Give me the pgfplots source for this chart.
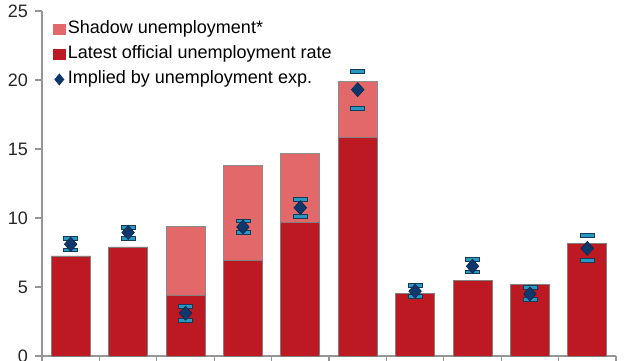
\documentclass[border=0pt]{standalone}
\usepackage{pgfplots}
\pgfplotsset{compat=1.18}
\usepackage{fontspec}
\setmainfont{Liberation Sans}
\definecolor{offred}{RGB}{189,25,35}
\definecolor{shadred}{RGB}{226,104,106}
\definecolor{navy}{RGB}{14,56,108}
\definecolor{capcyan}{RGB}{40,152,192}
\definecolor{capdark}{RGB}{20,60,90}
\definecolor{axgray}{RGB}{150,150,150}
\begin{document}
\begin{tikzpicture}
\useasboundingbox (-21pt,-2pt) rectangle (299pt,178pt);
\begin{axis}[
  scale only axis,
  width=287pt, height=172.5pt,
  xmin=0.5, xmax=10.5, ymin=0, ymax=25,
  axis x line*=bottom, axis y line*=left,
  axis line style={draw=axgray, line width=0.6pt},
  xtick={0.5,1.5,...,10.5}, xticklabels={},
  ytick={0,5,10,15,20,25},
  tick align=outside, major tick length=3.5pt,
  tick style={draw=axgray, line width=0.6pt},
  tick label style={font=\fontsize{9}{10}\selectfont, text=black!85},
  /pgf/number format/assume math mode=true,
  ybar, bar shift=0pt, bar width=19.5pt,
  legend cell align=left,
  legend style={draw=none, fill=none, inner sep=0pt, row sep=2pt,
    font=\fontsize{9}{10}\selectfont,
    nodes={text height=6.5pt, text depth=2pt, inner sep=1pt},
    at={(rel axis cs:0.018,0.978)}, anchor=north west},
]
% Shadow unemployment (total height)
\addplot[fill=shadred, draw=black!45, line width=0.4pt,
  legend image code/.code={\fill[shadred] (0pt,-2.7pt) rectangle (6.2pt,2.7pt);}]
  coordinates {(3,9.4) (4,13.8) (5,14.7) (6,19.9)};
\addlegendentry{Shadow unemployment*}
% Latest official unemployment rate
\addplot[fill=offred, draw=black!50, line width=0.4pt,
  legend image code/.code={\fill[offred] (0pt,-2.7pt) rectangle (6.2pt,2.7pt);}]
  coordinates {(1,7.25) (2,7.9) (3,4.4) (4,6.9) (5,9.7) (6,15.85) (7,4.55) (8,5.5) (9,5.2) (10,8.15)};
\addlegendentry{Latest official unemployment rate}
% caps upper
\addplot[forget plot, only marks, mark=square*, mark size=3.5pt,
  mark options={yscale=0.27, fill=capcyan, draw=capdark, line width=0.3pt}]
  coordinates {(1,8.55) (2,9.35) (3,3.6) (4,9.8) (5,11.35) (6,20.65) (7,5.15) (8,7.0) (9,5.0) (10,8.75)};
% caps lower
\addplot[forget plot, only marks, mark=square*, mark size=3.5pt,
  mark options={yscale=0.27, fill=capcyan, draw=capdark, line width=0.3pt}]
  coordinates {(1,7.7) (2,8.55) (3,2.6) (4,8.95) (5,10.1) (6,17.95) (7,4.3) (8,6.1) (9,4.1) (10,6.95)};
% Implied
\addplot[only marks, mark=diamond*, mark size=3.5pt,
  mark options={fill=navy, draw=navy!70!black, line width=0.3pt, xscale=1.2},
  legend image code/.code={\draw[mark=diamond*, mark size=2.7pt, mark options={fill=navy, draw=navy, xscale=1.1}] plot coordinates {(3.1pt,0pt)};}]
  coordinates {(1,8.1) (2,8.95) (3,3.1) (4,9.35) (5,10.75) (6,19.3) (7,4.7) (8,6.5) (9,4.5) (10,7.8)};
\addlegendentry{Implied by unemployment exp.}
\end{axis}
\end{tikzpicture}
\end{document}
